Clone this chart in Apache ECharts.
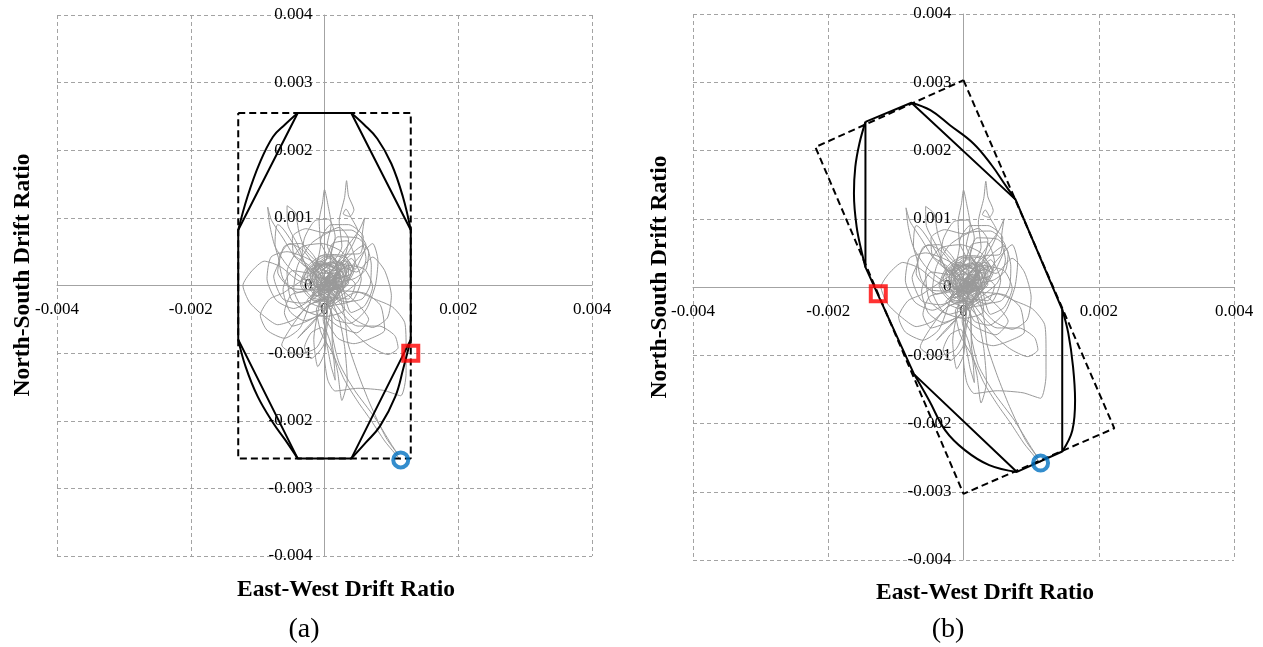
<!DOCTYPE html>
<html>
<head>
<meta charset="utf-8">
<title>Drift ratio orbits</title>
<script src="https://cdn.jsdelivr.net/npm/echarts@6.0.0/dist/echarts.min.js"></script>
<style>
  html, body { margin: 0; padding: 0; background: #ffffff; }
  #chart { width: 1263px; height: 647px; }
</style>
</head>
<body>
<div id="chart"></div>
<script>
// All drift values below are stored in units of 1e-3 (per mille drift ratio).
const UNIT = 1e-3;
const AXIS_MIN = -4;
const AXIS_MAX = 4;
const X_STEP = 2;
const Y_STEP = 1;

// Recorded roof drift orbit [East-West, North-South], in time order
const trajectory = [
  [0,0],[0.05,0.02],[0.22,0.14],[0.08,0.3],[-0.1,0.12],[-0.02,-0.1],[0.2,-0.04],[0.3,0.22],
  [0.1,0.18],[-0.16,0.3],[-0.22,0.02],[0.02,-0.18],[0.16,0.08],
  [0.05,0.05],[0.14,-0.02],[-0.02,0.1],[0.1,0.14],[0.0,-0.04],[0.16,0.08],[-0.06,0.02],
  [0.08,-0.1],[0.18,0.16],[-0.04,0.18],[0.06,0.0],[0.2,-0.06],[-0.1,-0.06],[0.02,0.2],
  [0.26,0.58],[0.22,0.95],[0.3,1.3],[0.33,1.55],[0.36,1.32],[0.44,1.12],[0.38,1.02],[0.28,1.06],
  [0.32,1.13],[0.4,1.0],[0.5,0.8],[0.42,0.6],
  [0.28,0.38],[0.1,0.22],[-0.12,-0.16],[-0.3,0.12],[-0.08,0.36],[0.2,0.26],[0.36,0.04],
  [0.18,-0.1],[0.0,0.06],[0.12,0.24],[0.32,0.36],[0.4,0.18],
  [0.12,0.08],[0.4,0.4],[0.55,0.1],[0.42,-0.22],[0.1,-0.3],[-0.22,-0.4],[-0.5,-0.2],
  [-0.56,0.2],[-0.36,0.56],[-0.04,0.62],[0.26,0.5],[0.46,0.24],
  [0.5,0.3],[0.62,0.6],[0.4,0.82],[0.1,0.8],[-0.2,0.62],[-0.4,0.3],[-0.46,-0.06],[-0.3,-0.36],
  [0.0,-0.46],[0.3,-0.36],
  [0.22,-0.02],[-0.04,0.08],[-0.18,0.22],[0.04,0.42],[0.24,0.3],[0.14,0.04],[-0.06,-0.06],
  [-0.26,-0.22],[-0.04,-0.32],[0.18,-0.2],[0.26,0.06],[0.06,0.16],
  [0.02,0.12],[-0.16,0.44],[-0.36,0.62],[-0.6,0.58],[-0.7,0.2],[-0.5,-0.04],[-0.2,-0.06],
  [0.08,0.16],[0.3,0.52],[0.52,0.82],[0.6,1.0],[0.56,0.7],[0.62,0.4],[0.5,0.06],[0.26,-0.14],
  [0.0,-0.36],[-0.26,-0.62],[-0.4,-0.78],[-0.2,-0.58],[0.04,-0.3],[0.3,-0.02],[0.46,0.36],
  [0.34,0.66],[0.12,0.62],[0.0,0.34],
  [-0.2,0.24],[-0.44,0.42],[-0.62,0.7],[-0.79,0.96],[-0.85,1.16],[-0.82,0.9],[-0.74,0.58],[-0.56,0.3],
  [-0.32,0.1],[-0.12,0.04],[-0.06,-0.2],[0.14,-0.14],[0.34,0.1],[0.26,0.34],[-0.02,0.28],
  [-0.2,0.12],[-0.1,-0.04],[0.1,0.0],[0.2,0.2],[0.0,0.32],[-0.14,0.2],
  [0.3,-0.1],[0.52,-0.3],[0.66,-0.5],[0.48,-0.7],[0.2,-0.6],[-0.04,-0.44],[-0.3,-0.52],
  [-0.52,-0.38],[-0.62,-0.06],[-0.48,0.22],[-0.2,0.18],
  [-0.06,0.6],[-0.08,0.95],[-0.03,1.22],[0,1.42],[0.05,1.2],[0.1,0.9],[0.04,0.6],
  [0.2,0.3],[0.4,-0.4],[0.6,-0.3],[0.72,-0.02],[0.6,0.24],[0.34,0.3],
  [0.06,-0.04],[0.3,0.0],[0.44,0.22],[0.28,0.44],[0.02,0.46],[-0.24,0.3],[-0.36,0.02],
  [-0.2,-0.2],[0.08,-0.24],[0.2,-0.06],[0.12,0.1],[-0.02,0.02],
  [-0.7,0.9],[-0.74,0.6],[-0.68,0.36],[-0.76,0.14],[-0.62,-0.2],[-0.34,-0.26],
  [0.12,0.04],[-0.08,0.12],[0.04,-0.14],[0.22,0.04],[0.08,0.12],[-0.1,0.0],
  [-0.4,0.08],[-0.66,0.28],[-0.9,0.36],[-1.1,0.2],[-1.22,0.0],[-1.12,-0.25],[-0.92,-0.44],
  [-0.7,-0.58],[-0.45,-0.5],[-0.22,-0.28],
  [0.16,-0.18],[0.36,-0.2],[0.46,0.02],[0.3,0.14],[0.08,0.08],[-0.14,0.26],[-0.06,0.44],
  [0.16,0.4],[0.18,0.18],[-0.02,-0.02],[-0.18,-0.16],[0.0,-0.12],
  [0.18,0.02],[0.06,0.22],[-0.14,0.12],[-0.04,-0.08],[0.14,-0.04],[0.24,0.16],[0.08,0.28],
  [-0.12,0.16],[-0.08,-0.1],[0.1,-0.18],[0.28,-0.02],[0.2,0.16],[0.02,0.08],
  [0.6,0.6],[0.7,0.3],[0.68,0.0],[0.56,-0.2],[0.3,-0.24],[0.08,-0.1],[-0.12,0.14],[-0.34,0.36],
  [-0.3,0.7],[-0.14,0.96],[0.06,0.98],[0.16,0.72],[0.1,0.46],
  [0.48,0.2],[0.72,0.42],[0.9,0.22],[1.0,-0.15],[0.94,-0.48],[0.72,-0.62],[0.45,-0.5],[0.2,-0.22],
  [-0.3,0.5],[-0.52,0.62],[-0.68,0.4],[-0.62,0.1],[-0.4,-0.1],[-0.14,-0.02],
  [0.24,0.1],[0.12,0.36],[-0.1,0.24],[-0.16,0.0],[0.04,-0.08],[0.26,0.04],[0.36,0.3],
  [0.2,0.2],[0.04,0.06],[-0.08,-0.14],[0.12,-0.22],[0.28,-0.08],
  [0.62,-0.12],[0.84,-0.3],[0.9,-0.66],[0.7,-0.78],[0.44,-0.86],[0.2,-0.78],[0.02,-0.5],[-0.1,-0.2],
  [0.05,-0.2],[-0.02,-0.5],[0.08,-0.82],[0.14,-1.1],[0.16,-1.4],[0.1,-1.2],[0.04,-0.9],
  [-0.04,-0.62],[-0.2,-0.7],[-0.3,-0.92],[-0.2,-1.08],[0.0,-0.84],
  [0.0,-0.2],[-0.25,-0.3],[-0.5,-0.62],[-0.64,-0.88],[-0.42,-1.02],[-0.12,-0.92],[0.02,-0.6],
  [0.1,0.5],[0.2,0.72],[0.5,0.7],[0.66,0.5],[0.62,0.24],[0.44,0.1],
  [0.1,0.04],[0.28,0.18],[0.12,0.34],[-0.06,0.16],[0.02,-0.06],[0.24,-0.02],[0.34,0.26],
  [0.14,0.22],[-0.12,0.34],[-0.18,0.06],[0.06,-0.14],[0.2,0.12],
  [0.36,0.68],[0.22,0.86],[0.0,0.78],[-0.28,0.84],[-0.48,0.72],[-0.46,0.46],[-0.24,0.3],
  [0.5,-0.6],[0.82,-0.6],[1.05,-0.74],[1.1,-0.92],[0.95,-1.02],[0.68,-0.9],[0.4,-0.66],
  [0.1,-0.3],[-0.2,0.1],[-0.4,0.6],[-0.55,0.9],[-0.56,1.18],[-0.44,1.08],[-0.38,0.78],[-0.28,0.52],
  [0.24,-0.08],[0.06,-0.26],[-0.14,-0.12],[-0.26,0.16],[-0.04,0.32],[0.24,0.22],[0.32,0.0],
  [0.14,-0.06],[0.04,0.1],[0.16,0.28],[0.36,0.32],[0.36,0.14],
  [0.3,0.14],[0.5,0.4],[0.72,0.62],[0.8,0.36],[0.76,0.0],[0.62,-0.36],[0.38,-0.56],
  [0.16,-0.5],[0.06,-0.3],
  [0.02,-0.6],[0.0,-1.05],[0.05,-1.4],[0.16,-1.56],[0.5,-1.52],[0.88,-1.55],[1.14,-1.63],
  [1.22,-1.3],[1.22,-0.9],[1.2,-0.55],[1.02,-0.32],[0.75,-0.2],[0.5,-0.1],
  [-0.2,-0.5],[-0.48,-0.6],[-0.6,-0.4],[-0.5,-0.14],[-0.24,-0.08],
  [0.2,0.0],[-0.02,0.1],[-0.14,0.26],[0.06,0.4],[0.2,0.28],[0.1,0.06],[-0.08,-0.04],
  [-0.22,-0.18],[-0.02,-0.28],[0.16,-0.16],[0.22,0.08],[0.04,0.2],
  [-0.08,0.3],[-0.3,0.42],[-0.56,0.5],[-0.8,0.42],[-0.86,0.1],[-0.72,-0.22],[-0.46,-0.34],[-0.2,-0.2],
  [0.3,0.45],[0.54,0.48],[0.58,0.72],[0.36,0.9],[0.1,0.9],[-0.06,0.66],[0.04,0.42],
  [-0.6,-0.1],[-0.82,-0.2],[-0.96,-0.44],[-0.86,-0.66],[-0.6,-0.78],[-0.36,-0.62],
  [-0.1,0.0],[-0.04,-0.18],[0.16,-0.1],[0.32,0.12],[0.24,0.36],[-0.04,0.3],[-0.18,0.14],
  [-0.08,-0.02],[0.12,0.02],[0.18,0.22],[-0.02,0.34],[-0.16,0.22],
  [0.1,-0.4],[0.12,-0.9],[0.2,-1.3],[0.26,-1.7],[0.34,-1.4],[0.3,-0.9],[0.22,-0.5],
  [0.04,-0.02],[0.28,0.02],[0.42,0.24],[0.26,0.42],[0.04,0.44],[-0.22,0.28],[-0.34,0.04],
  [-0.18,-0.18],[0.1,-0.22],[0.22,-0.04],[0.1,0.12],[0.0,0.04],
  [-0.1,-0.4],[-0.16,-0.8],[-0.1,-1.2],[0.0,-1.0],[0.04,-0.6],
  [0.2,-0.1],[0.3,-0.45],[0.35,-0.85],[0.5,-1.3],[0.68,-1.75],[0.92,-2.25],[1.1,-2.5],
  [1.0,-2.35],[0.75,-1.95],[0.45,-1.55],[0.22,-1.15],[0.12,-0.75],[0.1,-0.4],[0.0,-0.2],
  [-0.12,-0.35],[-0.05,-0.7],[0.12,-1.0],[0.3,-1.4],[0.5,-1.72],[0.7,-2.0],[0.9,-2.3],
  [1.05,-2.48],[1.14,-2.58]
];

// Panel (a): rectangular capacity box and its envelopes
const boxA = [[-1.29,2.55],[1.29,2.55],[1.29,-2.56],[-1.29,-2.56],[-1.29,2.55]];
const octagonA = [[-0.4,2.55],[0.4,2.55],[1.29,0.82],[1.29,-0.8],[0.4,-2.56],[-0.4,-2.56],[-1.29,-0.8],[-1.29,0.82],[-0.4,2.55]];
const arcA1 = [[-0.4,2.55],[-0.59,2.38],[-0.77,2.2],[-0.97,1.81],[-1.15,1.32],[-1.29,0.82]];
const arcA2 = [[0.4,2.55],[0.59,2.38],[0.79,2.17],[1.0,1.8],[1.17,1.32],[1.29,0.82]];
const arcA3 = [[-1.29,-0.8],[-1.18,-1.2],[-1.0,-1.64],[-0.77,-2.03],[-0.59,-2.28],[-0.4,-2.56]];
const arcA4 = [[1.29,-0.8],[1.18,-1.22],[1.06,-1.64],[0.83,-2.08],[0.62,-2.32],[0.4,-2.56]];
const squareA = [[1.29,-1.0]];
const circleA = [[1.14,-2.58]];

// Panel (b): rotated capacity box and its envelopes
const boxB = [[0,3.03],[2.23,-2.07],[0,-3.03],[-2.19,2.05],[0,3.03]];
const octagonB = [[-1.45,2.42],[-0.77,2.7],[0.77,1.28],[1.46,-0.33],[1.46,-2.41],[0.79,-2.71],[-0.73,-1.28],[-1.45,0.29],[-1.45,2.42]];
const arcB1 = [[-1.45,2.42],[-1.54,2.1],[-1.6,1.76],[-1.62,1.37],[-1.58,0.88],[-1.5,0.49],[-1.45,0.29]];
const arcB2 = [[-0.77,2.7],[-0.49,2.59],[-0.2,2.37],[0.15,2.1],[0.42,1.78],[0.6,1.52],[0.77,1.28]];
const arcB3 = [[1.46,-0.33],[1.55,-0.68],[1.62,-1.17],[1.65,-1.66],[1.61,-2.1],[1.46,-2.41]];
const arcB4 = [[-0.73,-1.28],[-0.51,-1.66],[-0.27,-2.1],[0.02,-2.39],[0.38,-2.61],[0.79,-2.71]];
const squareB = [[-1.26,-0.1]];
const circleB = [[1.14,-2.58]];

const SERIF = '"Liberation Serif", "Times New Roman", serif';
const GRID_GREY = '#a3a3a3';
const GRIDS = [
  { left: 57, top: 15, width: 535, height: 541 },
  { left: 693, top: 14, width: 541, height: 546 }
];

const chart = echarts.init(document.getElementById('chart'), null, { renderer: 'canvas' });

function tickText(v) {
  return String(+(v * UNIT).toFixed(3));
}

// Axes cross in the middle of each plot (at zero), labels travel with them.
function makeXAxis(i) {
  return {
    type: 'value', gridIndex: i, min: AXIS_MIN, max: AXIS_MAX, interval: X_STEP,
    position: 'bottom', offset: -GRIDS[i].height / 2,
    axisLine: { onZero: false, lineStyle: { color: GRID_GREY, width: 1 } },
    axisTick: { show: false },
    splitLine: { show: true, lineStyle: { color: GRID_GREY, width: 1, type: [4, 3] } },
    axisLabel: { formatter: tickText, fontFamily: SERIF, fontSize: 17, color: '#000', margin: 16 }
  };
}
function makeYAxis(i) {
  return {
    type: 'value', gridIndex: i, min: AXIS_MIN, max: AXIS_MAX, interval: Y_STEP,
    position: 'left', offset: -GRIDS[i].width / 2,
    axisLine: { onZero: false, lineStyle: { color: GRID_GREY, width: 1 } },
    axisTick: { show: false },
    splitLine: { show: true, lineStyle: { color: GRID_GREY, width: 1, type: [4, 3] } },
    axisLabel: { formatter: tickText, fontFamily: SERIF, fontSize: 17, color: '#000', margin: 12 }
  };
}

function line(data, i, style, smooth, z) {
  return {
    type: 'line', data, xAxisIndex: i, yAxisIndex: i,
    symbol: 'none', showSymbol: false, smooth: smooth || false,
    lineStyle: style, silent: true, z: z || 2
  };
}
function marker(data, i, shape, color) {
  return {
    type: 'scatter', data, xAxisIndex: i, yAxisIndex: i,
    symbol: shape, symbolSize: 15, silent: true, z: 10,
    itemStyle: { color: 'rgba(0,0,0,0)', borderColor: color, borderWidth: 4 }
  };
}

const orbitStyle = { color: '#999999', width: 1 };
const solidStyle = { color: '#000', width: 2 };
const dashStyle = { color: '#000', width: 2, type: [7, 4] };

function panel(i, box, poly, arcs, square, circle) {
  const list = [
    line(trajectory, i, orbitStyle, 0.22, 1),
    line(box, i, dashStyle, false, 3),
    line(poly, i, solidStyle, false, 4)
  ];
  arcs.forEach(a => list.push(line(a, i, solidStyle, 0.4, 4)));
  list.push(marker(square, i, 'rect', '#ff0000'));
  list.push(marker(circle, i, 'circle', '#0070c0'));
  return list;
}

function label(text, x, y, font, rotate) {
  return {
    type: 'text', x, y, rotation: rotate ? Math.PI / 2 : 0,
    style: { text, font, fill: '#000', textAlign: 'center', textVerticalAlign: 'middle' }
  };
}

const titleFont = 'bold 23.5px ' + SERIF;
const captionFont = '28px ' + SERIF;

chart.setOption({
  animation: false,
  backgroundColor: '#ffffff',
  grid: GRIDS,
  xAxis: [makeXAxis(0), makeXAxis(1)],
  yAxis: [makeYAxis(0), makeYAxis(1)],
  series: [
    ...panel(0, boxA, octagonA, [arcA1, arcA2, arcA3, arcA4], squareA, circleA),
    ...panel(1, boxB, octagonB, [arcB1, arcB2, arcB3, arcB4], squareB, circleB)
  ],
  graphic: [
    label('North-South Drift Ratio', 23, 275, titleFont, true),
    label('North-South Drift Ratio', 660, 277, titleFont, true),
    label('East-West Drift Ratio', 346, 590, titleFont, false),
    label('East-West Drift Ratio', 985, 593, titleFont, false),
    label('(a)', 304, 630, captionFont, false),
    label('(b)', 948, 630, captionFont, false)
  ]
});
</script>
</body>
</html>
